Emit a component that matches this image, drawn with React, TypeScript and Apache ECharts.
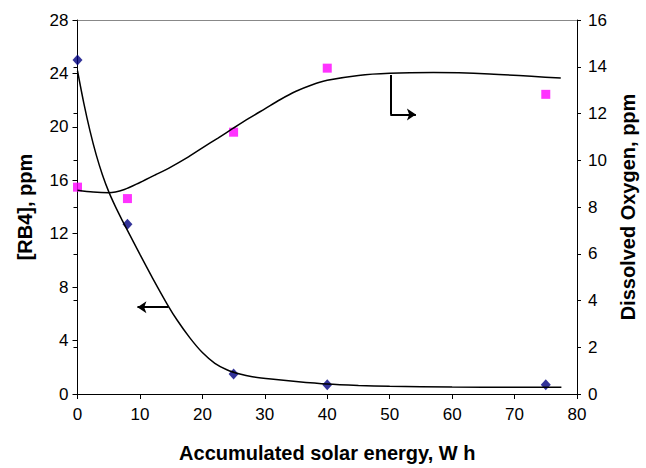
import React, { useEffect, useRef } from "react";
import * as echarts from "echarts";

// Measured points
const rb4Points: [number, number][] = [
  [0, 25.0], [8, 12.7], [25, 1.5], [40, 0.7], [75, 0.7],
];
const doPoints: [number, number][] = [
  [0, 8.85], [8, 8.36], [25, 11.2], [40, 13.94], [75, 12.82],
];
// Fitted curves
const rb4Curve: [number, number][] = [
  [0, 24.2], [1, 21.8], [2, 19.7], [3, 17.9], [4, 16.4], [5, 15.15], [6, 14.1],
  [7, 13.15], [8, 12.25], [10, 10.45], [12, 8.7], [14.4, 6.7], [16, 5.5],
  [18, 4.2], [20, 3.1], [22, 2.3], [24, 1.8], [26, 1.5], [28, 1.3],
  [31, 1.12], [35, 0.93], [40, 0.74], [45, 0.64], [50, 0.58], [60, 0.52],
  [70, 0.5], [77.5, 0.5],
];
const doCurve: [number, number][] = [
  [0, 8.72], [2.5, 8.64], [5, 8.61], [7.5, 8.75], [10, 9.05], [12.5, 9.38],
  [15, 9.72], [17.5, 10.1], [20, 10.53], [22.5, 10.95], [25, 11.38],
  [27.5, 11.8], [30, 12.2], [32.5, 12.6], [35, 12.95], [37.5, 13.22],
  [40, 13.42], [45, 13.63], [50, 13.72], [57, 13.75], [66, 13.69], [77.4, 13.52],
];
// Arrow annotations (data coordinates)
const leftArrow: [number, number][] = [[14.6, 6.5], [9.6, 6.5]];
const rightArrowStem: [number, number][] = [[50.1, 13.65], [50.1, 11.96]];
const rightArrowHead: [number, number][] = [[50.1, 11.96], [54.2, 11.96]];

const xTitle = "Accumulated solar energy, W h";
const yLeftTitle = "[RB4], ppm";
const yRightTitle = "Dissolved Oxygen, ppm";

export default function App() {
  const ref = useRef<HTMLDivElement>(null);
  useEffect(() => {
    if (!ref.current) return;
    const chart = echarts.init(ref.current, undefined, { renderer: "svg" });
    const font = "'Liberation Sans', Arial, sans-serif";
    const tickLabel = { fontFamily: font, fontSize: 17, color: "#000" };
    const nameStyle = { fontFamily: font, fontSize: 20, fontWeight: "bold" as const, color: "#000" };
    chart.setOption({
      animation: false,
      backgroundColor: "#fff",
      grid: { left: 77.5, right: 65, top: 20, bottom: 67.5 },
      xAxis: [
        {
          type: "value", min: 0, max: 80, interval: 10, position: "bottom",
          name: xTitle, nameLocation: "middle", nameGap: 49, nameTextStyle: nameStyle,
          axisLine: { show: true, lineStyle: { color: "#000", width: 1 } },
          axisTick: { show: true, inside: false, length: 5, lineStyle: { color: "#000" } },
          axisLabel: { ...tickLabel, margin: 12 },
          splitLine: { show: false },
        },
        {
          type: "value", min: 0, max: 80, position: "top",
          axisLine: { show: true, onZero: false, lineStyle: { color: "#888", width: 1 } },
          axisTick: { show: false }, axisLabel: { show: false }, splitLine: { show: false },
        },
      ],
      yAxis: [
        {
          type: "value", min: 0, max: 28, interval: 4, position: "left",
          name: yLeftTitle, nameLocation: "middle", nameGap: 43, nameRotate: 90, nameTextStyle: nameStyle,
          axisLine: { show: true, lineStyle: { color: "#000", width: 1 } },
          axisTick: { show: true, length: 5, lineStyle: { color: "#000" } },
          axisLabel: { ...tickLabel, margin: 9 },
          splitLine: { show: false },
        },
        {
          type: "value", min: 0, max: 16, interval: 2, position: "right",
          name: yRightTitle, nameLocation: "middle", nameGap: 41, nameRotate: 90, nameTextStyle: nameStyle,
          axisLine: { show: true, onZero: false, lineStyle: { color: "#000", width: 1 } },
          axisTick: { show: true, length: 4, lineStyle: { color: "#000" } },
          axisLabel: { ...tickLabel, margin: 11 },
          splitLine: { show: false },
        },
        {
          type: "value", min: 0, max: 16, interval: 2, position: "right",
          axisLine: { show: false },
          axisTick: { show: true, inside: true, length: 4, lineStyle: { color: "#000" } },
          axisLabel: { show: false }, splitLine: { show: false },
        },
      ],
      series: [
        {
          type: "line", data: rb4Curve, xAxisIndex: 0, yAxisIndex: 0, smooth: 0.3,
          showSymbol: false, symbol: "none", lineStyle: { color: "#000", width: 1.5 },
        },
        {
          type: "line", data: doCurve, xAxisIndex: 0, yAxisIndex: 1, smooth: 0.3,
          showSymbol: false, symbol: "none", lineStyle: { color: "#000", width: 1.5 },
        },
        {
          type: "scatter", data: rb4Points, xAxisIndex: 0, yAxisIndex: 0,
          symbol: "diamond", symbolSize: [10, 11], itemStyle: { color: "#000080" }, clip: false,
        },
        {
          type: "scatter", data: doPoints, xAxisIndex: 0, yAxisIndex: 1,
          symbol: "rect", symbolSize: 9, itemStyle: { color: "#FF00FF" }, clip: false,
        },
        {
          type: "lines", coordinateSystem: "cartesian2d", xAxisIndex: 0, yAxisIndex: 0,
          symbol: ["none", "arrow"], symbolSize: 9,
          lineStyle: { color: "#000", width: 2, opacity: 1 },
          data: [{ coords: leftArrow }],
        },
        {
          type: "lines", coordinateSystem: "cartesian2d", xAxisIndex: 0, yAxisIndex: 1,
          symbol: ["none", "none"],
          lineStyle: { color: "#000", width: 2, opacity: 1 },
          data: [{ coords: rightArrowStem }],
        },
        {
          type: "lines", coordinateSystem: "cartesian2d", xAxisIndex: 0, yAxisIndex: 1,
          symbol: ["none", "arrow"], symbolSize: 9,
          lineStyle: { color: "#000", width: 2, opacity: 1 },
          data: [{ coords: rightArrowHead }],
        },
      ],
    });
    return () => chart.dispose();
  }, []);
  return <div ref={ref} style={{ width: 646, height: 468, position: "fixed", left: 0, top: 0 }} />;
}
